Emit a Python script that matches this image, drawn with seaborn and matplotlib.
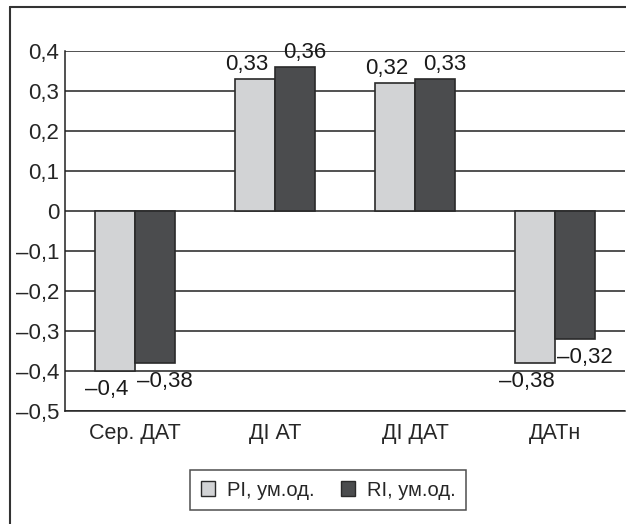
import pandas as pd
import seaborn as sns
import matplotlib.pyplot as plt
from matplotlib.lines import Line2D
from matplotlib.patches import Patch

# Дані
categorias = ['Сер. ДАТ', 'ДІ АТ', 'ДІ ДАТ', 'ДАТн']
series = ['PI, ум.од.', 'RI, ум.од.']
pi_vals = [-0.40, 0.33, 0.32, -0.38]
ri_vals = [-0.38, 0.36, 0.33, -0.32]
pi_labels = ['–0,4', '0,33', '0,32', '–0,38']
ri_labels = ['–0,38', '0,36', '0,33', '–0,32']
yticks = [-0.5, -0.4, -0.3, -0.2, -0.1, 0, 0.1, 0.2, 0.3, 0.4]
ytick_labels = ['–0,5', '–0,4', '–0,3', '–0,2', '–0,1', '0', '0,1', '0,2', '0,3', '0,4']

df = pd.DataFrame({
    'cat': categorias * 2,
    'serie': [series[0]] * 4 + [series[1]] * 4,
    'val': pi_vals + ri_vals,
})

sns.set_style('white')
plt.rcParams['font.family'] = ['Liberation Sans', 'DejaVu Sans']

cores = ['#d2d3d5', '#4b4c4e']
fig = plt.figure(figsize=(6.26, 5.24), dpi=100)
ax = fig.add_axes([65 / 626, 1 - 411 / 524, 560 / 626, 360 / 524])

sns.barplot(data=df, x='cat', y='val', hue='serie', palette=cores,
            width=0.572, gap=0, edgecolor='#2a2a2a', linewidth=1.2,
            ax=ax, legend=False, zorder=3)

# grade horizontal
for y in yticks:
    ax.axhline(y, color='#222222', lw=1.1, zorder=1)

ax.set_ylim(-0.5, 0.4)
ax.set_xlim(-0.5, 3.5)
ax.set_yticks(yticks)
ax.set_yticklabels(ytick_labels, fontsize=16)
ax.tick_params(axis='y', length=0, pad=4)
ax.tick_params(axis='x', length=0, labelsize=15.5, pad=9)
ax.set_xticks([-0.5, 0.5, 1.5, 2.5, 3.5], minor=True)
ax.tick_params(axis='x', which='minor', length=11, width=1.1, color='#222222', direction='out')
ax.set_xlabel('')
ax.set_ylabel('')

for s in ['top', 'right']:
    ax.spines[s].set_visible(False)
for s in ['left', 'bottom']:
    ax.spines[s].set_color('#222222')
    ax.spines[s].set_linewidth(1.1)

# rótulos (deslocados como no Excel)
for cont, labs, dx in zip(ax.containers, [pi_labels, ri_labels], [-6, 7]):
    anns = ax.bar_label(cont, labels=labs, fontsize=16, padding=3, color='#1a1a1a')
    for a in anns:
        x0, y0 = a.xyann
        a.xyann = (x0 + dx, y0 - 3 if y0 < 0 else y0)

# legenda
handles = [Patch(facecolor=c, edgecolor='#2a2a2a', linewidth=1) for c in cores]
leg = fig.legend(handles, series, loc='center', bbox_to_anchor=(328 / 626, 1 - 490 / 524),
                 ncol=2, fontsize=14.5, frameon=True, fancybox=False, edgecolor='#222222',
                 handlelength=0.7, handleheight=0.7, handletextpad=0.6, columnspacing=1.3,
                 borderpad=0.5)
leg.get_frame().set_linewidth(1.1)

# moldura externa
fig.add_artist(Line2D([10 / 626, 10 / 626], [0, 1 - 7 / 524], color='#333333', lw=1.5))
fig.add_artist(Line2D([10 / 626, 1], [1 - 7 / 524, 1 - 7 / 524], color='#333333', lw=1.5))

plt.savefig('out.png', dpi=100)
